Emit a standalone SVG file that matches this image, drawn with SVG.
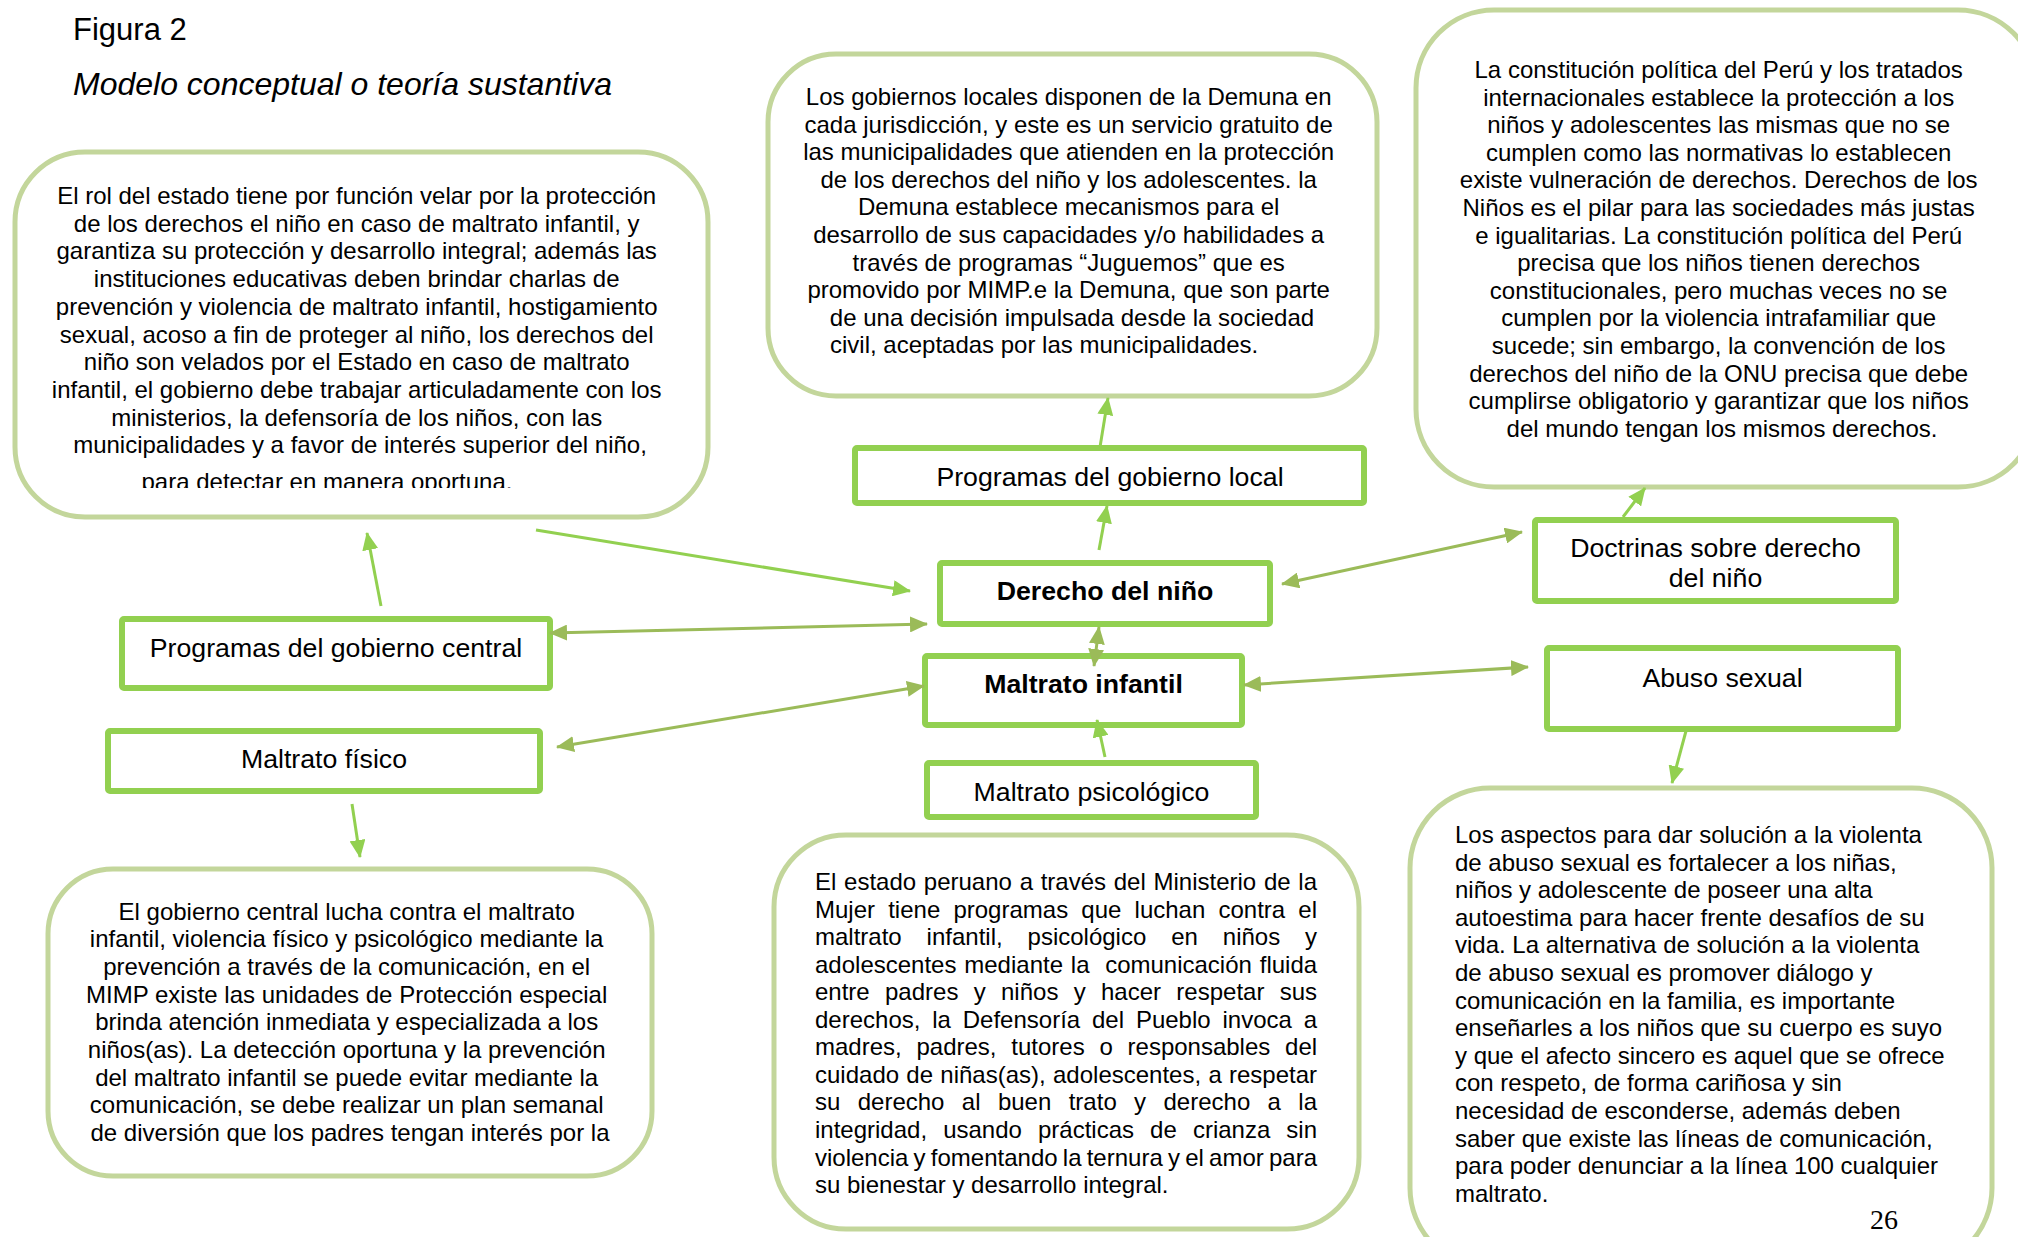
<svg xmlns="http://www.w3.org/2000/svg" width="2018" height="1237" viewBox="0 0 2018 1237">
<style>
text{font-family:"Liberation Sans",Arial,sans-serif;fill:#000}
.body{font-size:24px}
.mid{text-anchor:middle}
.lbl{font-size:26.7px;text-anchor:middle}
.bold{font-weight:bold}
.rbox{fill:#fff;stroke:#c3d69b;stroke-width:5}
.sbox{fill:#fff;stroke:#92d050;stroke-width:6}
.ln{fill:none;stroke:#92d050;stroke-width:3}
.dl{fill:none;stroke:#9bbb59;stroke-width:3}
</style>
<defs>
<marker id="ag" markerUnits="userSpaceOnUse" markerWidth="18" markerHeight="16" refX="17" refY="8" orient="auto-start-reverse"><path d="M0,0 L18,8 L0,16 z" fill="#92d050"/></marker>
<marker id="ao" markerUnits="userSpaceOnUse" markerWidth="18" markerHeight="16" refX="17" refY="8" orient="auto-start-reverse"><path d="M0,0 L18,8 L0,16 z" fill="#9bbb59"/></marker>
<clipPath id="clipA"><rect x="0" y="0" width="2018" height="488"/></clipPath>
</defs>
<rect width="2018" height="1237" fill="#fff"/>

<g id="title">
<text x="73" y="40" style="font-size:31px">Figura 2</text>
<text x="73" y="95" style="font-size:32px;font-style:italic">Modelo conceptual o teoría sustantiva</text>
</g>

<g id="box-rol-estado">
<rect class="rbox" x="15" y="152" width="693" height="365" rx="70"/>
<text class="body mid">
<tspan x="360" y="204">El rol del estado tiene por función velar por la protección</tspan>
<tspan x="360" dy="27.7">de los derechos el niño en caso de maltrato infantil, y</tspan>
<tspan x="360" dy="27.7">garantiza su protección y desarrollo integral; además las</tspan>
<tspan x="360" dy="27.7">instituciones educativas deben brindar charlas de</tspan>
<tspan x="360" dy="27.7">prevención y violencia de maltrato infantil, hostigamiento</tspan>
<tspan x="360" dy="27.7">sexual, acoso a fin de proteger al niño, los derechos del</tspan>
<tspan x="360" dy="27.7">niño son velados por el Estado en caso de maltrato</tspan>
<tspan x="360" dy="27.7">infantil, el gobierno debe trabajar articuladamente con los</tspan>
<tspan x="360" dy="27.7">ministerios, la defensoría de los niños, con las</tspan>
<tspan x="360" dy="27.7">municipalidades y a favor de interés superior del niño,</tspan>
</text>
<text class="body" x="141.5" y="490" clip-path="url(#clipA)">para detectar en manera oportuna.</text>
</g>

<g id="box-gobiernos-locales">
<rect class="rbox" x="768" y="54" width="609" height="342" rx="68"/>
<text class="body mid">
<tspan x="1072" y="105">Los gobiernos locales disponen de la Demuna en</tspan>
<tspan x="1072" dy="27.6">cada jurisdicción, y este es un servicio gratuito de</tspan>
<tspan x="1072" dy="27.6">las municipalidades que atienden en la protección</tspan>
<tspan x="1072" dy="27.6">de los derechos del niño y los adolescentes. la</tspan>
<tspan x="1072" dy="27.6">Demuna establece mecanismos para el</tspan>
<tspan x="1072" dy="27.6">desarrollo de sus capacidades y/o habilidades a</tspan>
<tspan x="1072" dy="27.6">través de programas “Juguemos” que es</tspan>
<tspan x="1072" dy="27.6">promovido por MIMP.e la Demuna, que son parte</tspan>
<tspan x="1072" dy="27.6">de una decisión impulsada desde la sociedad</tspan>
</text>
<text class="body" x="830" y="353.4">civil, aceptadas por las municipalidades.</text>
</g>

<g id="box-constitucion">
<rect class="rbox" x="1416" y="10" width="620" height="477" rx="78"/>
<text class="body mid">
<tspan x="1722" y="78">La constitución política del Perú y los tratados</tspan>
<tspan x="1722" dy="27.6">internacionales establece la protección a los</tspan>
<tspan x="1722" dy="27.6">niños y adolescentes las mismas que no se</tspan>
<tspan x="1722" dy="27.6">cumplen como las normativas lo establecen</tspan>
<tspan x="1722" dy="27.6">existe vulneración de derechos. Derechos de los</tspan>
<tspan x="1722" dy="27.6">Niños es el pilar para las sociedades más justas</tspan>
<tspan x="1722" dy="27.6">e igualitarias. La constitución política del Perú</tspan>
<tspan x="1722" dy="27.6">precisa que los niños tienen derechos</tspan>
<tspan x="1722" dy="27.6">constitucionales, pero muchas veces no se</tspan>
<tspan x="1722" dy="27.6">cumplen por la violencia intrafamiliar que</tspan>
<tspan x="1722" dy="27.6">sucede; sin embargo, la convención de los</tspan>
<tspan x="1722" dy="27.6">derechos del niño de la ONU precisa que debe</tspan>
<tspan x="1722" dy="27.6">cumplirse obligatorio y garantizar que los niños</tspan>
<tspan x="1722" dy="27.6">del mundo tengan los mismos derechos.</tspan>
</text>
</g>

<g id="box-gobierno-central-texto">
<rect class="rbox" x="48" y="869" width="604" height="307" rx="65"/>
<text class="body mid">
<tspan x="350" y="919.5">El gobierno central lucha contra el maltrato</tspan>
<tspan x="350" dy="27.7">infantil, violencia físico y psicológico mediante la</tspan>
<tspan x="350" dy="27.7">prevención a través de la comunicación, en el</tspan>
<tspan x="350" dy="27.7">MIMP existe las unidades de Protección especial</tspan>
<tspan x="350" dy="27.7">brinda atención inmediata y especializada a los</tspan>
<tspan x="350" dy="27.7">niños(as). La detección oportuna y la prevención</tspan>
<tspan x="350" dy="27.7">del maltrato infantil se puede evitar mediante la</tspan>
<tspan x="350" dy="27.7">comunicación, se debe realizar un plan semanal</tspan>
<tspan x="350" dy="27.7">de diversión que los padres tengan interés por la</tspan>
</text>
</g>

<g id="box-estado-peruano">
<rect class="rbox" x="774" y="835" width="585" height="394" rx="72"/>
<text class="body">
<tspan x="815" y="890" style="word-spacing:1.05px">El estado peruano a través del Ministerio de la</tspan>
<tspan x="815" dy="27.55" style="word-spacing:6.52px">Mujer tiene programas que luchan contra el</tspan>
<tspan x="815" dy="27.55" style="word-spacing:18.24px">maltrato infantil, psicológico en niños y</tspan>
<tspan x="815" dy="27.55" style="word-spacing:1.16px">adolescentes mediante la</tspan><tspan dx="15.66" style="word-spacing:1.16px">comunicación fluida</tspan>
<tspan x="815" dy="27.55" style="word-spacing:8.64px">entre padres y niños y hacer respetar sus</tspan>
<tspan x="815" dy="27.55" style="word-spacing:5.18px">derechos, la Defensoría del Pueblo invoca a</tspan>
<tspan x="815" dy="27.55" style="word-spacing:8.1px">madres, padres, tutores o responsables del</tspan>
<tspan x="815" dy="27.55" style="word-spacing:0.62px">cuidado de niñas(as), adolescentes, a respetar</tspan>
<tspan x="815" dy="27.55" style="word-spacing:10.72px">su derecho al buen trato y derecho a la</tspan>
<tspan x="815" dy="27.55" style="word-spacing:9.42px">integridad, usando prácticas de crianza sin</tspan>
<tspan x="815" dy="27.55" style="word-spacing:-1.45px">violencia y fomentando la ternura y el amor para</tspan>
<tspan x="815" dy="27.55">su bienestar y desarrollo integral.</tspan>
</text>
</g>

<g id="box-aspectos">
<rect class="rbox" x="1410" y="788" width="582" height="480" rx="80"/>
<text class="body">
<tspan x="1455" y="843">Los aspectos para dar solución a la violenta</tspan>
<tspan x="1455" dy="27.6">de abuso sexual es fortalecer a los niñas,</tspan>
<tspan x="1455" dy="27.6">niños y adolescente de poseer una alta</tspan>
<tspan x="1455" dy="27.6">autoestima para hacer frente desafíos de su</tspan>
<tspan x="1455" dy="27.6">vida. La alternativa de solución a la violenta</tspan>
<tspan x="1455" dy="27.6">de abuso sexual es promover diálogo y</tspan>
<tspan x="1455" dy="27.6">comunicación en la familia, es importante</tspan>
<tspan x="1455" dy="27.6">enseñarles a los niños que su cuerpo es suyo</tspan>
<tspan x="1455" dy="27.6">y que el afecto sincero es aquel que se ofrece</tspan>
<tspan x="1455" dy="27.6">con respeto, de forma cariñosa y sin</tspan>
<tspan x="1455" dy="27.6">necesidad de esconderse, además deben</tspan>
<tspan x="1455" dy="27.6">saber que existe las líneas de comunicación,</tspan>
<tspan x="1455" dy="27.6">para poder denunciar a la línea 100 cualquier</tspan>
<tspan x="1455" dy="27.6">maltrato.</tspan>
</text>
</g>

<g id="node-programas-local">
<rect class="sbox" x="855" y="448" width="509" height="55" rx="2"/>
<text class="lbl" x="1110" y="486">Programas del gobierno local</text>
</g>
<g id="node-derecho-nino">
<rect class="sbox" x="940" y="563" width="330" height="61" rx="2"/>
<text class="lbl bold" x="1105" y="600">Derecho del niño</text>
</g>
<g id="node-maltrato-infantil">
<rect class="sbox" x="925" y="656" width="317" height="69" rx="2"/>
<text class="lbl bold" x="1083.5" y="693">Maltrato infantil</text>
</g>
<g id="node-maltrato-psicologico">
<rect class="sbox" x="927" y="763" width="329" height="54" rx="2"/>
<text class="lbl" x="1091.5" y="801">Maltrato psicológico</text>
</g>
<g id="node-programas-central">
<rect class="sbox" x="122" y="619" width="428" height="69" rx="2"/>
<text class="lbl" x="336" y="657">Programas del gobierno central</text>
</g>
<g id="node-maltrato-fisico">
<rect class="sbox" x="108" y="731" width="432" height="60" rx="2"/>
<text class="lbl" x="324" y="768">Maltrato físico</text>
</g>
<g id="node-doctrinas">
<rect class="sbox" x="1535" y="520" width="361" height="81" rx="2"/>
<text class="lbl"><tspan x="1715.5" y="557">Doctrinas sobre derecho</tspan><tspan x="1715.5" dy="30">del niño</tspan></text>
</g>
<g id="node-abuso-sexual">
<rect class="sbox" x="1547" y="648" width="351" height="81" rx="2"/>
<text class="lbl" x="1722.5" y="687">Abuso sexual</text>
</g>

<g id="connectors">
<line class="ln" x1="536" y1="530" x2="910" y2="591" marker-end="url(#ag)"/>
<line class="ln" x1="381" y1="606" x2="367" y2="533" marker-end="url(#ag)"/>
<line class="ln" x1="352" y1="804" x2="360" y2="857" marker-end="url(#ag)"/>
<line class="ln" x1="1099" y1="550" x2="1107" y2="506" marker-end="url(#ag)"/>
<line class="ln" x1="1100" y1="447" x2="1108" y2="398" marker-end="url(#ag)"/>
<line class="ln" x1="1105" y1="757" x2="1097" y2="720" marker-end="url(#ag)"/>
<line class="ln" x1="1623" y1="517" x2="1645" y2="488" marker-end="url(#ag)"/>
<line class="ln" x1="1686" y1="731" x2="1672" y2="783" marker-end="url(#ag)"/>
<line class="dl" x1="550" y1="633" x2="927" y2="624" marker-start="url(#ao)" marker-end="url(#ao)"/>
<line class="dl" x1="557" y1="747" x2="924" y2="686" marker-start="url(#ao)" marker-end="url(#ao)"/>
<line class="dl" x1="1094" y1="666" x2="1099" y2="627" marker-start="url(#ao)" marker-end="url(#ao)"/>
<line class="dl" x1="1282" y1="584" x2="1522" y2="532" marker-start="url(#ao)" marker-end="url(#ao)"/>
<line class="dl" x1="1244" y1="685" x2="1528" y2="667" marker-start="url(#ao)" marker-end="url(#ao)"/>
</g>

<text id="page-number" x="1870" y="1229" style="font-family:'Liberation Serif','Times New Roman',serif;font-size:28px">26</text>
</svg>
